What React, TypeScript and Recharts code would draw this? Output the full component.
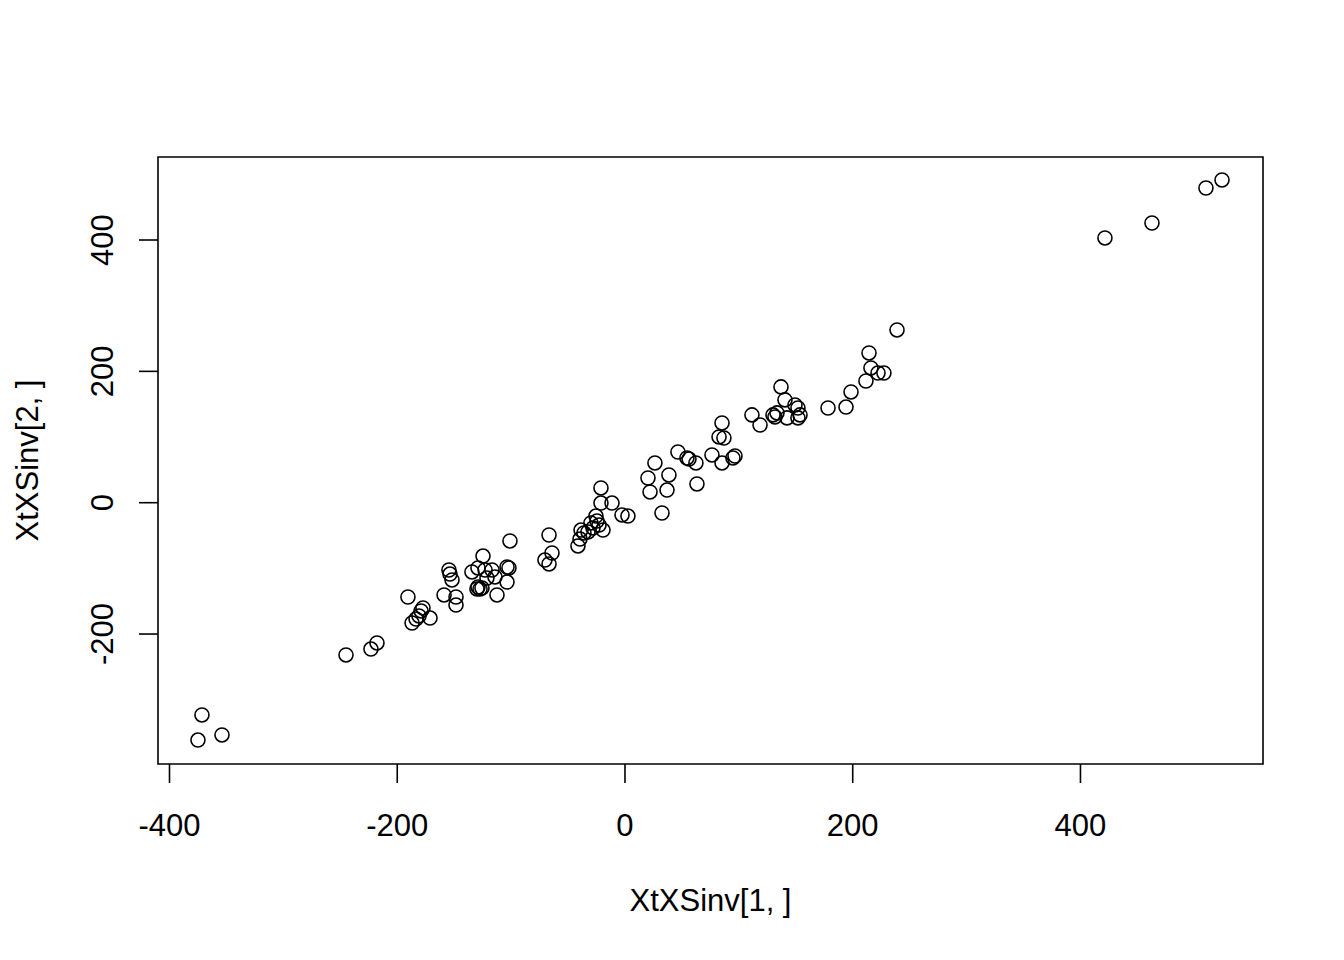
import React from 'react';
import {
  ScatterChart,
  Scatter,
  XAxis,
  YAxis,
  ReferenceArea,
} from 'recharts';

// values
const xValues = [
  -375.0, -371.5, -353.9, -245.0, -223.1, -217.8, -190.6, -177.4, -179.1, -180.9,
  -183.5, -187.0, -171.2, -154.6, -153.7, -151.9, -158.9, -148.4, -148.4, -124.7,
  -134.4, -129.1, -122.9, -116.8, -114.2, -121.2, -129.1, -127.3, -125.6, -130.0,
  -112.4, -103.6, -103.6, -101.9, -101.0, -66.7, -64.1, -70.3, -66.7, -41.3,
  -39.5, -38.6, -36.0, -32.5, -29.9, -28.1, -25.5, -24.6, -22.8, -19.3,
  -21.1, -21.1, -11.4, -2.6, 2.6, 20.2, 22.0, 26.3, 32.5, 36.9,
  38.6, 46.5, 54.4, 56.2, 62.3, 63.2, 76.4, 85.2, 94.8, 96.6,
  85.2, 82.6, 86.9, 111.5, 118.6, 130.0, 131.7, 133.5, 137.0, 140.5,
  142.3, 149.3, 151.9, 153.7, 151.9, 178.3, 194.1, 198.5, 211.6, 214.3,
  216.0, 222.2, 227.4, 238.9, 421.5, 462.8, 510.2, 524.3,
];

const yValues = [
  -361.4, -323.2, -353.7, -231.9, -222.8, -213.6, -143.6, -160.3, -164.9, -172.5,
  -177.1, -183.2, -175.6, -102.5, -108.6, -117.7, -140.5, -143.6, -155.8, -81.2,
  -105.5, -99.4, -102.5, -102.5, -113.1, -114.7, -128.4, -131.4, -129.9, -131.4,
  -140.5, -120.8, -97.9, -99.4, -58.3, -49.2, -76.6, -87.3, -93.3, -65.9,
  -55.3, -41.6, -46.1, -44.6, -30.9, -38.5, -20.3, -27.9, -34.0, -41.6,
  22.4, -0.5, -0.5, -18.7, -20.3, 37.6, 16.3, 60.5, -15.7, 19.3,
  42.2, 77.2, 68.1, 66.5, 60.5, 28.5, 72.7, 60.5, 68.1, 71.1,
  121.4, 100.1, 98.5, 133.7, 118.3, 133.7, 130.6, 136.7, 176.3, 156.5,
  129.1, 148.8, 144.2, 133.7, 129.1, 144.2, 145.7, 168.6, 185.3, 228.0,
  205.2, 197.5, 197.5, 263.0, 403.1, 425.9, 479.2, 491.4,
];

const xTicks = [-400, -200, 0, 200, 400];
const yTicks = [-200, 0, 200, 400];

const X_DOMAIN: [number, number] = [-410.1, 560.3];
const Y_DOMAIN: [number, number] = [-397.9, 526.4];

const points = xValues.map((x, i) => ({ x, y: yValues[i] }));

const FONT = '"Liberation Sans", Arial, sans-serif';
const FONT_SIZE = 31;

const OpenCircle = (props: any) => {
  const { cx, cy } = props;
  if (cx == null || cy == null) return null;
  return <circle cx={cx} cy={cy} r={7} fill="none" stroke="#000" strokeWidth={1.6} />;
};

const YTick = (props: any) => {
  const { x, y, payload } = props;
  return (
    <text
      x={x}
      y={y}
      transform={`rotate(-90, ${x}, ${y})`}
      textAnchor="middle"
      fontFamily={FONT}
      fontSize={FONT_SIZE}
      fill="#000"
    >
      {payload.value}
    </text>
  );
};

export default function App() {
  return (
    <div style={{ position: 'absolute', left: 0, top: 0, width: 1344, height: 960, background: '#fff' }}>
      <ScatterChart
        width={1344}
        height={960}
        margin={{ top: 157, right: 81, bottom: 0, left: 0 }}
      >
        <XAxis
          type="number"
          dataKey="x"
          domain={X_DOMAIN}
          ticks={xTicks}
          allowDataOverflow
          height={196}
          axisLine={false}
          tickSize={19}
          tickMargin={31}
          tickLine={{ stroke: '#000', strokeWidth: 1.6 }}
          tick={{ fill: '#000', fontSize: FONT_SIZE, fontFamily: FONT }}
          label={{
            value: 'XtXSinv[1, ]',
            position: 'insideBottom',
            offset: 49,
            fill: '#000',
            fontSize: FONT_SIZE,
            fontFamily: FONT,
          }}
        />
        <YAxis
          type="number"
          dataKey="y"
          domain={Y_DOMAIN}
          ticks={yTicks}
          allowDataOverflow
          width={158}
          axisLine={false}
          tickSize={19}
          tickMargin={26}
          tickLine={{ stroke: '#000', strokeWidth: 1.6 }}
          tick={<YTick />}
          label={{
            value: 'XtXSinv[2, ]',
            angle: -90,
            position: 'insideLeft',
            offset: 27,
            fill: '#000',
            fontSize: FONT_SIZE,
            fontFamily: FONT,
            style: { textAnchor: 'middle' },
          }}
        />
        <ReferenceArea
          x1={X_DOMAIN[0]}
          x2={X_DOMAIN[1]}
          y1={Y_DOMAIN[0]}
          y2={Y_DOMAIN[1]}
          fill="none"
          stroke="#000"
          strokeWidth={1.6}
          ifOverflow="visible"
        />
        <Scatter data={points} shape={<OpenCircle />} isAnimationActive={false} />
      </ScatterChart>
    </div>
  );
}
